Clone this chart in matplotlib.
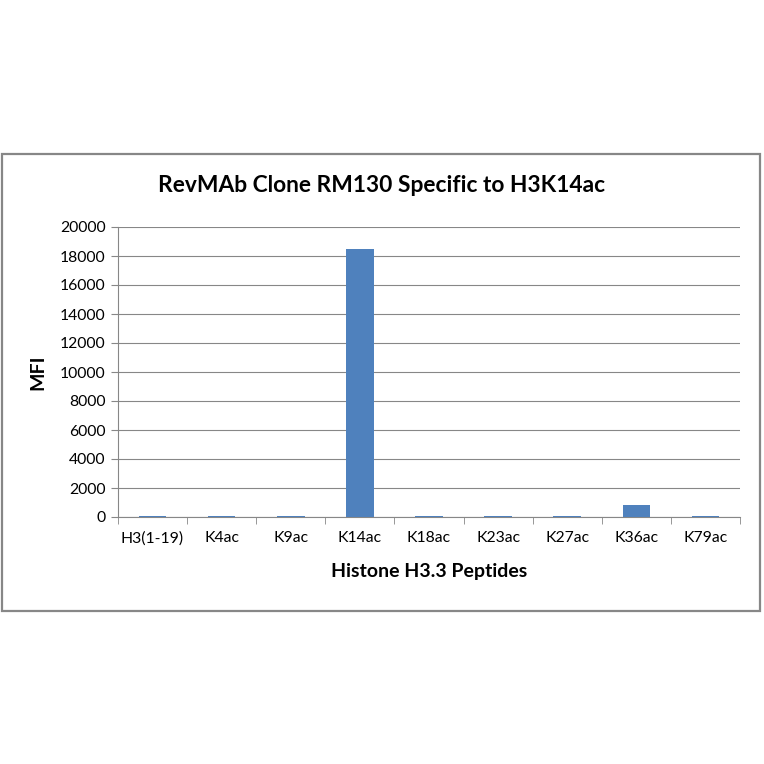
import numpy as np
import matplotlib.pyplot as plt
from matplotlib.patches import Rectangle

peptides = ["H3(1-19)", "K4ac", "K9ac", "K14ac", "K18ac", "K23ac", "K27ac", "K36ac", "K79ac"]
mfi = [100, 100, 100, 18450, 100, 100, 100, 820, 100]

plt.rcParams['font.family'] = ['Lato', 'DejaVu Sans']

fig = plt.figure(figsize=(7.64, 7.64), dpi=100)
W, H = 764, 764

# outer chart frame
fig.patches.append(Rectangle((2 / W, 1 - 611 / H), 758 / W, 457 / H, transform=fig.transFigure,
                             fill=False, edgecolor="#878787", linewidth=1.6))

ax = fig.add_axes([118 / W, 1 - 517 / H, 622 / W, 290 / H])
x = np.arange(len(peptides))
ax.bar(x, mfi, width=0.4, color="#4F81BD", zorder=3)

ax.set_xlim(-0.5, len(peptides) - 0.5)
ax.set_ylim(0, 20000)
ax.set_yticks(np.arange(0, 20001, 2000))
ax.set_yticklabels([str(v) for v in range(0, 20001, 2000)], fontsize=11.3)
ax.set_xticks(x)
ax.set_xticklabels(peptides, fontsize=11.3)
ax.set_xticks(np.arange(-0.5, len(peptides), 1), minor=True)
ax.tick_params(axis="x", which="major", length=0, pad=10)
ax.tick_params(axis="x", which="minor", length=5, color="#878787")
ax.tick_params(axis="y", length=5, color="#878787", pad=4)
ax.grid(axis="y", color="#878787", linewidth=0.8, zorder=0)

for s in ["top", "right"]:
    ax.spines[s].set_visible(False)
for s in ["left", "bottom"]:
    ax.spines[s].set_color("#878787")

ax.set_xlabel("Histone H3.3 Peptides", fontsize=14, fontweight="bold", labelpad=13)
ax.set_ylabel("MFI", fontsize=14, fontweight="bold", labelpad=10)
fig.text(382 / W, 1 - 186 / H, "RevMAb Clone RM130 Specific to H3K14ac", fontsize=16.4,
         fontweight="bold", ha="center", va="center")

fig.savefig("out.png", dpi=100, facecolor="white")
